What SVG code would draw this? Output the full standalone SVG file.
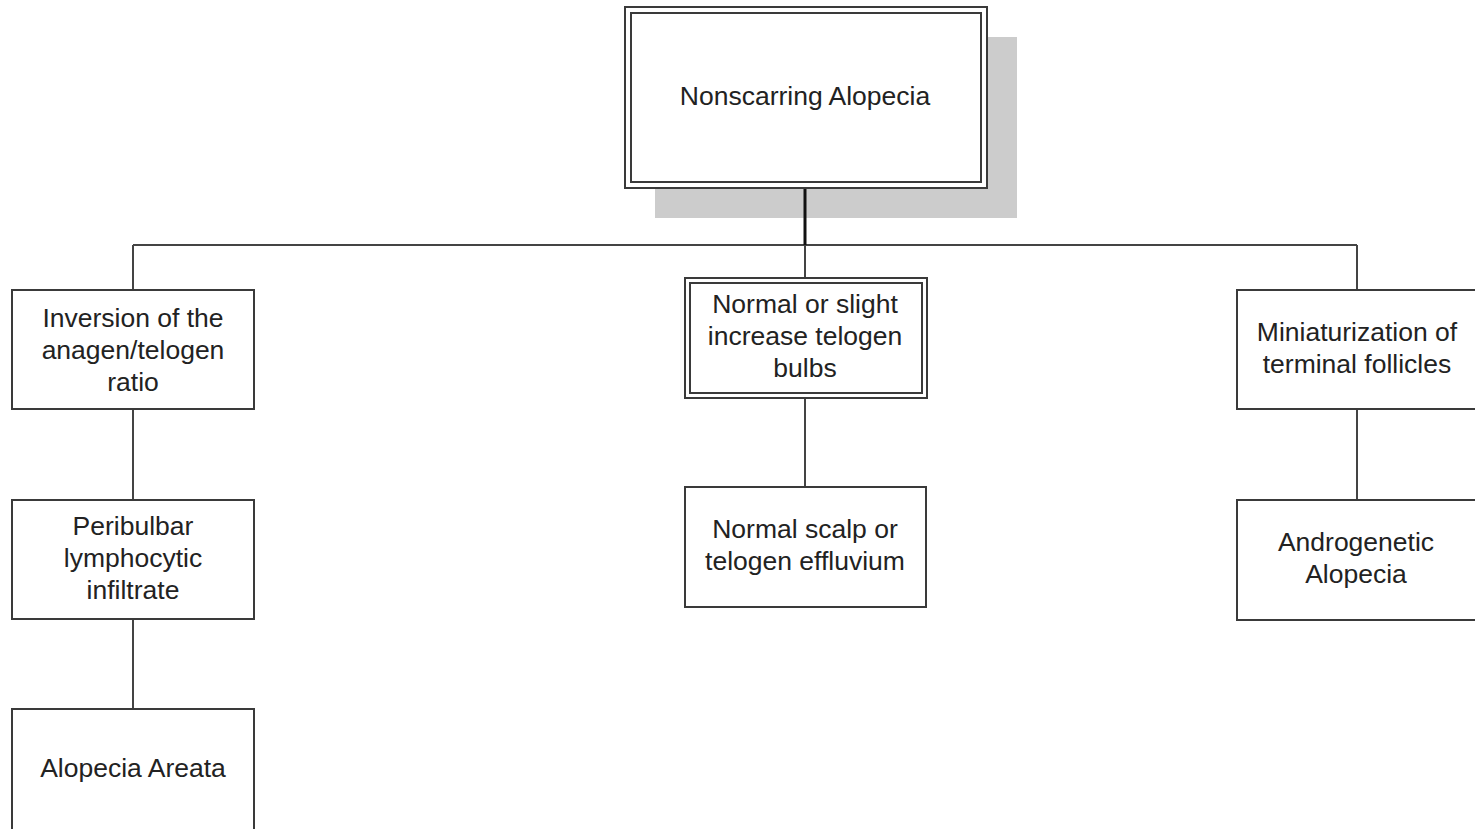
<svg xmlns="http://www.w3.org/2000/svg" width="1475" height="829" viewBox="0 0 1475 829">
<style>
.box{fill:#fff;stroke:#3a3a3a;stroke-width:2}
.inner{fill:none;stroke:#3a3a3a;stroke-width:2}
.lbl{font-family:"Liberation Sans",Arial,sans-serif;font-size:26.5px;fill:#222;text-anchor:middle}
.conn{fill:none;stroke:#444;stroke-width:2}
</style>
<rect width="1475" height="829" fill="#fff"/>
<rect x="655" y="37" width="362" height="181" fill="#cccccc"/>
<g id="connectors">
<path class="conn" d="M805 188V245M133 245H1357M133 245V290M805 245V278M1357 245V290M133 409V500M133 619V709M805 398V487M1357 409V500"/>
<path d="M805 188V245" stroke="#111" stroke-width="3"/>
</g>
<g id="n-root">
<rect class="box" x="625" y="7" width="362" height="181"/>
<rect class="inner" x="631" y="13" width="350" height="169"/>
<text class="lbl" x="805" y="105">Nonscarring Alopecia</text>
</g>
<g id="n-inversion">
<rect class="box" x="12" y="290" width="242" height="119"/>
<text class="lbl" x="133" y="327">Inversion of the</text>
<text class="lbl" x="133" y="359">anagen/telogen</text>
<text class="lbl" x="133" y="391">ratio</text>
</g>
<g id="n-peribulbar">
<rect class="box" x="12" y="500" width="242" height="119"/>
<text class="lbl" x="133" y="535">Peribulbar</text>
<text class="lbl" x="133" y="567">lymphocytic</text>
<text class="lbl" x="133" y="599">infiltrate</text>
</g>
<g id="n-areata">
<rect class="box" x="12" y="709" width="242" height="125"/>
<text class="lbl" x="133" y="777">Alopecia Areata</text>
</g>
<g id="n-normal">
<rect class="box" x="685" y="278" width="242" height="120"/>
<rect class="inner" x="690" y="283" width="232" height="110"/>
<text class="lbl" x="805" y="313">Normal or slight</text>
<text class="lbl" x="805" y="345">increase telogen</text>
<text class="lbl" x="805" y="377">bulbs</text>
</g>
<g id="n-effluvium">
<rect class="box" x="685" y="487" width="241" height="120"/>
<text class="lbl" x="805" y="538">Normal scalp or</text>
<text class="lbl" x="805" y="570">telogen effluvium</text>
</g>
<g id="n-miniaturization">
<rect class="box" x="1237" y="290" width="242" height="119"/>
<text class="lbl" x="1357" y="341">Miniaturization of</text>
<text class="lbl" x="1357" y="373">terminal follicles</text>
</g>
<g id="n-androgenetic">
<rect class="box" x="1237" y="500" width="242" height="120"/>
<text class="lbl" x="1356" y="551">Androgenetic</text>
<text class="lbl" x="1356" y="583">Alopecia</text>
</g>
</svg>
